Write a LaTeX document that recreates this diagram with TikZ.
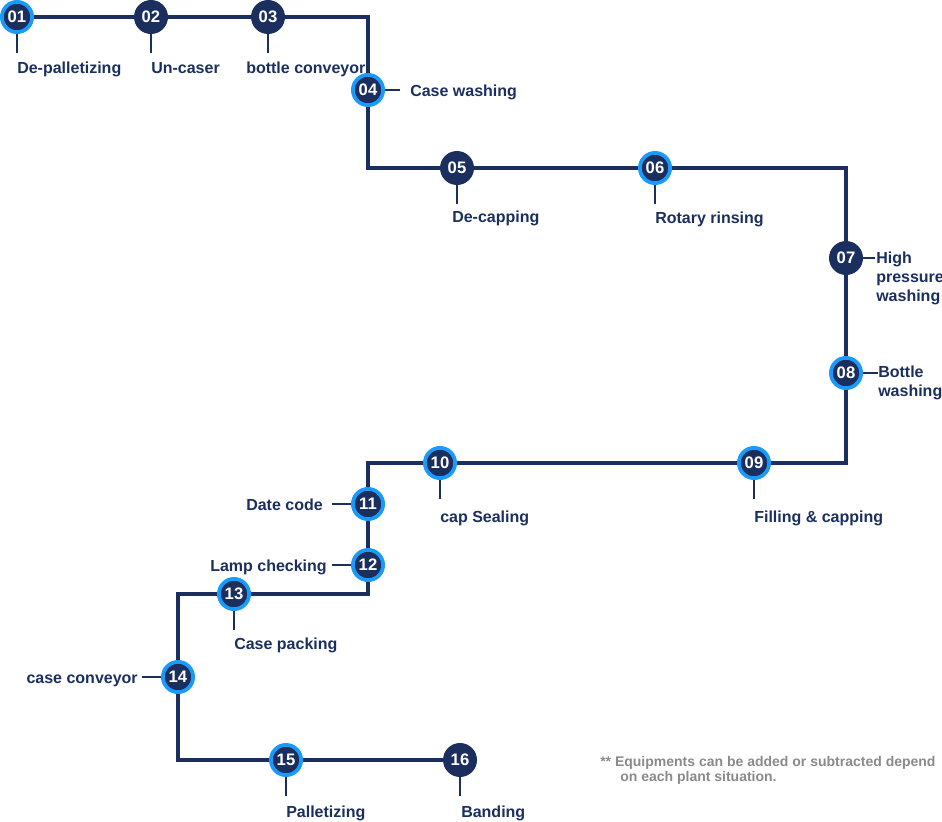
\documentclass[tikz,border=0pt]{standalone}
\usepackage{fontspec}
\setmainfont{Liberation Sans}
\usepackage{tikz}
\definecolor{navy}{HTML}{1B2F5E}
\definecolor{ringblue}{HTML}{1A9BFC}
\definecolor{notegray}{HTML}{8A8A8A}
\tikzset{
	darkstep/.style={shape=circle,fill=navy,inner sep=0pt,minimum size=25.5pt,text=white,font=\fontsize{12.5}{14}\selectfont\bfseries},
	ringstep/.style={darkstep,draw=ringblue,line width=2.8pt,minimum size=22.7pt},
	route/.style={draw=navy,line width=3pt},
	leader/.style={draw=navy,line width=0.8pt},
	lbl/.style={inner sep=0pt,text=navy,font=\fontsize{12}{14}\selectfont\bfseries,align=left},
	note/.style={inner sep=0pt,text=notegray,font=\fontsize{10.5}{11.5}\selectfont\bfseries,align=left},
}

\begin{document}
\begin{tikzpicture}[x=0.75pt,y=-0.75pt]
	\useasboundingbox (0,0) rectangle (942,821);
	% stations with a blue ring
	\foreach \n/\x/\y in {01/17/17, 04/368/90, 06/655/168, 08/846/373, 09/754/463, 10/440/463, 11/368/504, 12/368/565, 13/234/594, 14/178/677, 15/286/760}
		\node[ringstep] (n\n) at (\x,\y) {\n};
	% plain stations
	\foreach \n/\x/\y in {02/151/17, 03/268/17, 05/457/168, 07/846/258, 16/460/760}
		\node[darkstep] (n\n) at (\x,\y) {\n};
	% the line
	\draw[route] (n01) -- (n02) -- (n03) -| (n04) |- (n05) -- (n06) -| (n07) -- (n08) |- (n09) -- (n10) -| (n11) -- (n12) |- (n13) -| (n14) |- (n15) -- (n16);
	% labels below
	\foreach \n/\x/\y/\lab in {01/17/73/De-palletizing, 02/151/73/Un-caser, 03/246/73/bottle conveyor, 05/452/222/De-capping, 06/655/223/Rotary rinsing, 09/754/522/Filling \& capping, 10/440/522/cap Sealing, 13/234/649/Case packing, 15/286/817/Palletizing, 16/461/817/Banding} {
		\draw[leader] (n\n.south) -- ++(0,19);
		\node[lbl,anchor=base west] (t\n) at (\x,\y) {\lab};
	}
	% labels to the right
	\draw[leader] (n04.east) -- ++(15,0);
	\node[lbl,anchor=base west] (t04) at (410,96) {Case washing};
	\draw[leader] (n07.east) -- ++(12,0);
	\node[lbl,anchor=north west] (t07) at (876,252) {High\\pressure\\washing};
	\draw[leader] (n08.east) -- ++(15,0);
	\node[lbl,anchor=north west] (t08) at (878,366) {Bottle\\washing};
	% labels to the left
	\foreach \n/\x/\y/\lab in {11/323/510/Date code, 12/327/571/Lamp checking, 14/138/683/case conveyor} {
		\draw[leader] (n\n.west) -- ++(-19,0);
		\node[lbl,anchor=base east] (t\n) at (\x,\y) {\lab};
	}
	\node[note,anchor=north west] (remark) at (600,756) {** Equipments can be added or subtracted depend\\\hspace*{15pt}on each plant situation.};
\end{tikzpicture}
\end{document}
